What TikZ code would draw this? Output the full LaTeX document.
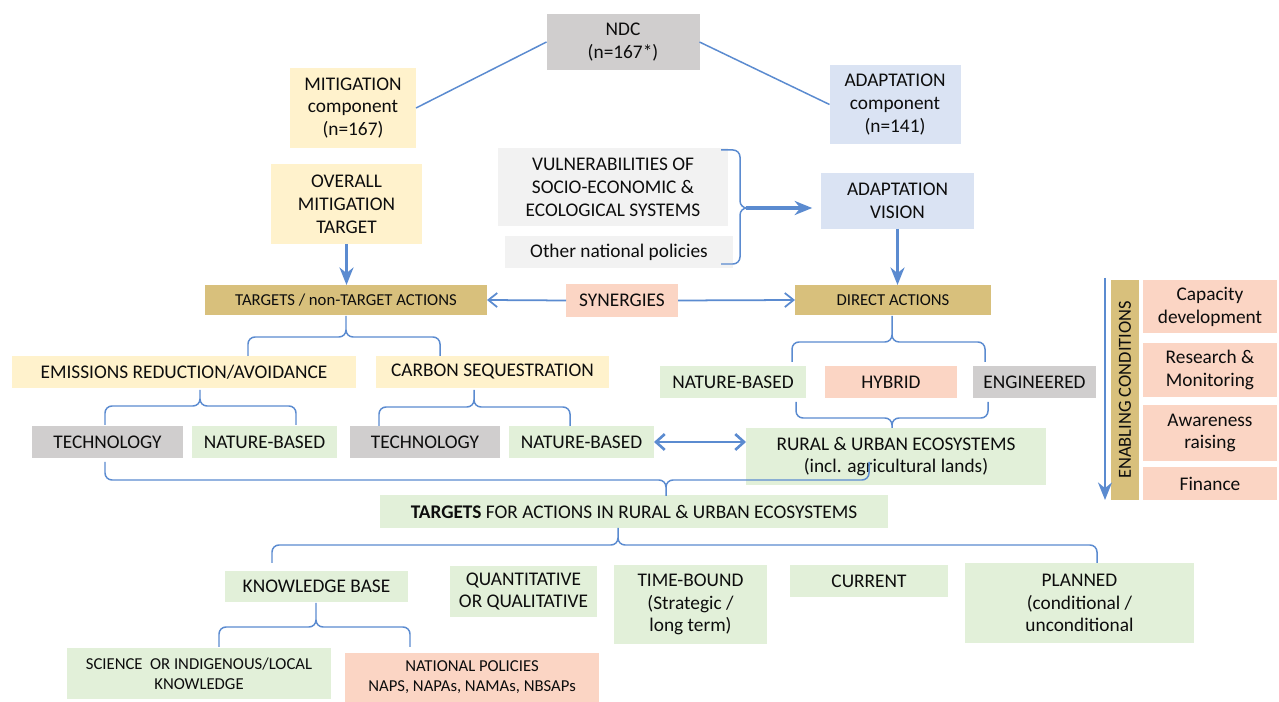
\documentclass[tikz,border=0pt]{standalone}
\usepackage{fontspec}
\setmainfont{Carlito}
\usetikzlibrary{arrows.meta}
\definecolor{lnblue}{HTML}{5B8BD0}
\definecolor{cgray}{HTML}{D0CECE}
\definecolor{cylw}{HTML}{FFF2CC}
\definecolor{cblue}{HTML}{DAE3F3}
\definecolor{cgreen}{HTML}{E2F0D9}
\definecolor{cpeach}{HTML}{FBD5C4}
\definecolor{ctan}{HTML}{D8C07C}
\definecolor{clgray}{HTML}{F2F2F2}
\begin{document}
\begin{tikzpicture}
	[x=0.02cm,y=-0.02cm,
	every node/.style={inner sep=1pt,outer sep=0,align=center,text=black!95,
		font=\fontsize{11}{13}\selectfont},
	wh/.style 2 args={minimum width=#1*0.02cm,minimum height=#2*0.02cm},
	gry/.style={fill=cgray}, ylw/.style={fill=cylw}, blu/.style={fill=cblue},
	grn/.style={fill=cgreen}, pch/.style={fill=cpeach}, tan/.style={fill=ctan},
	lgr/.style={fill=clgray},
	small/.style={font=\fontsize{9.5}{11.5}\selectfont},
	conn/.style={draw=lnblue,line width=.85pt},
	brc/.style={conn,rounded corners=4pt},
	arr/.style={draw=lnblue,line width=1.4pt,-{Stealth[length=10pt,width=8pt]}},
	barb/.style={draw=lnblue,line width=1pt,-{Straight Barb[length=5pt,width=8pt]}}]
	\useasboundingbox (0,0) rectangle (1279,702);
	\node[gry,wh={153}{56}]       (ndc)  at (623,42)      {NDC\\(n=167*)};
	\node[ylw,wh={126}{80}]       (mit)  at (353,108)     {MITIGATION\\component\\(n=167)};
	\node[blu,wh={131}{79}]       (adp)  at (895,104.5)   {ADAPTATION\\component\\(n=141)};
	\node[ylw,wh={151}{80}]       (omt)  at (346.5,204)   {OVERALL\\MITIGATION\\TARGET};
	\node[lgr,wh={230}{78}]       (vul)  at (613,187)     {VULNERABILITIES OF\\SOCIO-ECONOMIC \&\\ECOLOGICAL SYSTEMS};
	\node[lgr,wh={228}{32}]       (onp)  at (619,252)     {Other national policies};
	\node[blu,wh={153}{56}]       (avi)  at (897.5,201)   {ADAPTATION\\VISION};
	\node[tan,small,wh={282}{30}] (tna)  at (346,300)     {TARGETS / non-TARGET ACTIONS};
	\node[pch,wh={112}{33}]       (syn)  at (622,300.5)   {SYNERGIES};
	\node[tan,small,wh={196}{30}] (dir)  at (893,300)     {DIRECT ACTIONS};
	\node[ylw,wh={344}{32}]       (emi)  at (184,372)     {EMISSIONS REDUCTION/AVOIDANCE};
	\node[ylw,wh={233}{32}]       (cse)  at (492.5,372)   {CARBON SEQUESTRATION};
	\node[gry,wh={151}{32}]       (tec1) at (107.5,442)   {TECHNOLOGY};
	\node[grn,wh={145}{32}]       (nb1)  at (264.5,442)   {NATURE-BASED};
	\node[gry,wh={150}{32}]       (tec2) at (425,442)     {TECHNOLOGY};
	\node[grn,wh={145}{32}]       (nb2)  at (581.5,442)   {NATURE-BASED};
	\node[grn,wh={146}{32}]       (nb3)  at (733,382)     {NATURE-BASED};
	\node[pch,wh={132}{32}]       (hyb)  at (891,382)     {HYBRID};
	\node[gry,wh={123}{32}]       (eng)  at (1034.5,382)  {ENGINEERED};
	\node[grn,wh={300}{57}]       (rur)  at (896,456.5)   {RURAL \& URBAN ECOSYSTEMS\\(incl. agricultural lands)};
	\node[tan,rotate=90,wh={220}{28},font=\fontsize{10.5}{12}\selectfont] (enc) at (1125,390) {ENABLING CONDITIONS};
	\node[pch,wh={134}{53}]       (cap)  at (1210,306.5)  {Capacity\\development};
	\node[pch,wh={134}{54}]       (res)  at (1210,370)    {Research \&\\Monitoring};
	\node[pch,wh={134}{56}]       (awa)  at (1210,433)    {Awareness\\raising};
	\node[pch,wh={134}{33}]       (fin)  at (1210,483.5)  {Finance};
	\node[grn,wh={508}{33}]       (tar)  at (634,511.5)   {\textbf{TARGETS} FOR ACTIONS IN RURAL \& URBAN ECOSYSTEMS};
	\node[grn,wh={183}{31}]       (kb)   at (316.5,586.5) {KNOWLEDGE BASE};
	\node[grn,wh={147}{51}]       (qq)   at (523.5,591.5) {QUANTITATIVE\\OR QUALITATIVE};
	\node[grn,wh={153}{79}]       (tb)   at (690.5,604.5) {TIME-BOUND\\(Strategic /\\long term)};
	\node[grn,wh={158}{32}]       (cur)  at (869,581)     {CURRENT};
	\node[grn,wh={229}{80}]       (pla)  at (1079.5,603)  {PLANNED\\(conditional /\\unconditional};
	\node[grn,small,wh={264}{51}] (sci)  at (199,673.5)   {SCIENCE\ \ OR INDIGENOUS/LOCAL\\KNOWLEDGE};
	\node[pch,small,wh={254}{49}] (nat)  at (472,677.5)   {NATIONAL POLICIES\\NAPS, NAPAs, NAMAs, NBSAPs};
	\draw[conn] (ndc.west) -- (mit.east) (ndc.east) -- (adp.west) ;
	\foreach \n/\xa/\xb/\xt/\ye/\yh/\yt in
		{b1/248/440/346/356/337/316, b2/105/296/200/425/406/390,
		 b3/379/570/474/426/407/390, b4/792/985/892/362/342/316,
		 b5/272/1097/618/563/545/528, b6/219/410/316/647/627/603,
		 b7/796/988/892/402/418/428, b8/105/869/666/462/480/496}
		{\coordinate (\n-l) at (\xa,\ye);
		 \coordinate (\n-r) at (\xb,\ye);
		 \coordinate (\n-m) at (\xt,\yh);
		 \coordinate (\n-t) at (\xt,\yt);
		 \draw[brc] (\n-l) |- (\n-m) -- (\n-t) (\n-r) |- (\n-m) -- (\n-t) ;}
	\coordinate (vb-a) at (721,150);
	\coordinate (vb-b) at (721,264);
	\coordinate (vb-m) at (740,208);
	\coordinate (vb-t) at (746,208);
	\draw[brc] (vb-a) -| (vb-m) -- (vb-t) (vb-b) -| (vb-m) -- (vb-t) ;
	\draw[arr,line width=1.8pt,shorten >=5pt] (vb-t) -- (vb-t -| avi.west) ;
	\draw[arr] (omt.south) -- (omt.south |- tna.north) ;
	\draw[arr] (avi.south) -- (avi.south |- dir.north) ;
	\draw[barb] (syn.west) -- (tna.east) ;
	\draw[barb] (syn.east) -- (dir.west) ;
	\draw[barb,line width=1.5pt,{Straight Barb[length=5pt,width=9pt]}-{Straight Barb[length=5pt,width=9pt]}]
		(nb2.east) -- (nb2.east -| rur.west) ;
	\coordinate (en-a) at (1105,278);
	\coordinate (en-b) at (1105,500);
	\draw[arr,line width=1.1pt] (en-a) -- (en-b) ;
\end{tikzpicture}
\end{document}
